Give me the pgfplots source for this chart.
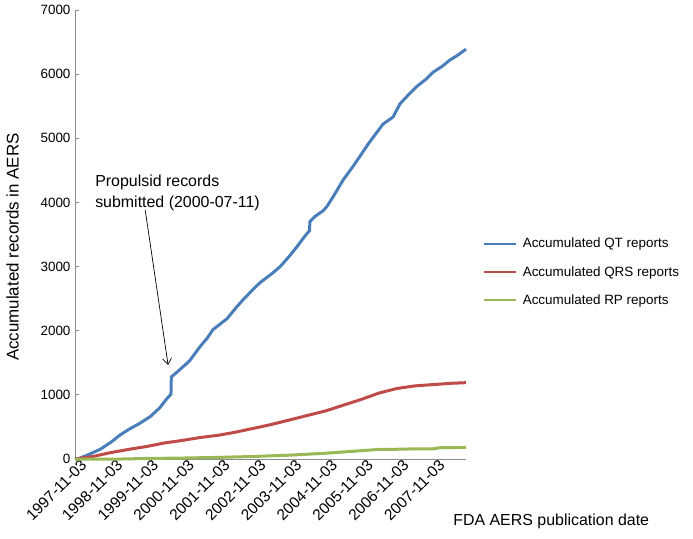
\documentclass[border=0pt]{standalone}
\usepackage{fontspec}
\setmainfont{Liberation Sans}
\usepackage{pgfplots}
\pgfplotsset{compat=1.18}
\usetikzlibrary{arrows.meta}
\definecolor{qtc}{HTML}{4A7EBB}
\definecolor{qrsc}{HTML}{BE4B48}
\definecolor{rpc}{HTML}{98B954}
\definecolor{axc}{HTML}{8C8C8C}
\begin{document}
\begin{tikzpicture}
\begin{axis}[
  at={(0,0)}, anchor=south west,
  scale only axis, width=391bp, height=449bp,
  xmin=0, xmax=10.92, ymin=0, ymax=7000,
  axis x line*=bottom, axis y line*=left,
  axis line style={draw=axc, line width=0.8bp},
  xtick={0,1,...,10},
  xticklabels={1997-11-03,1998-11-03,1999-11-03,2000-11-03,2001-11-03,2002-11-03,2003-11-03,2004-11-03,2005-11-03,2006-11-03,2007-11-03},
  xticklabel style={rotate=45, anchor=north east, font=\fontsize{15.5}{18}\selectfont, inner sep=1bp, xshift=5bp, yshift=-2bp},
  x tick style={draw=none},
  ytick={0,1000,...,7000},
  y tick style={draw=axc, line width=0.8bp},
  tick align=inside, major tick length=4bp,
  yticklabel style={font=\fontsize{13.5}{16}\selectfont, /pgf/number format/1000 sep={}, xshift=-1bp},
  /pgf/number format/assume math mode=true,
  scaled y ticks=false,
  clip=false,
  legend style={at={(rel axis cs:1,0.4165)}, anchor=west, xshift=17bp, draw=none, fill=none,
    font=\fontsize{13.5}{16}\selectfont, row sep=15bp, inner sep=0pt, nodes={inner sep=1bp},
    /tikz/every odd column/.append style={column sep=5bp}},
  legend cell align=left,
  legend image code/.code={\draw[#1, line width=1.6bp] (0bp,0bp) -- (32bp,0bp);},
]
\addplot[qtc, line width=3bp] coordinates {
(0,0) (0.1,5) (0.3,50) (0.5,100) (0.7,150) (1.0,260) (1.26,375) (1.5,460) (1.82,560)
(2.1,660) (2.37,800) (2.55,930) (2.68,1010) (2.69,1280) (2.8,1330) (3.0,1430) (3.2,1530)
(3.49,1750) (3.7,1890) (3.85,2015) (4.0,2080) (4.25,2190) (4.5,2360) (4.69,2480)
(5.0,2660) (5.17,2750) (5.5,2890) (5.73,3000) (6.0,3170) (6.2,3310) (6.4,3460)
(6.55,3560) (6.56,3700) (6.7,3780) (6.93,3870) (7.04,3940) (7.21,4090) (7.5,4360)
(7.75,4550) (7.96,4720) (8.2,4920) (8.44,5100) (8.6,5220) (8.88,5330) (9.08,5540)
(9.3,5670) (9.55,5810) (9.8,5920) (10.0,6030) (10.25,6120) (10.47,6220) (10.7,6300) (10.92,6390)
};
\addlegendentry{Accumulated QT reports}
\addplot[qrsc, line width=3bp] coordinates {
(0,0) (0.5,40) (1,100) (1.5,150) (2,195) (2.5,250) (3,290) (3.5,335) (4,370) (4.5,420)
(5,480) (5.5,540) (6,610) (6.5,680) (7,750) (7.5,840) (8,930) (8.3,990) (8.5,1030)
(9,1100) (9.5,1140) (10,1160) (10.5,1180) (10.92,1190)
};
\addlegendentry{Accumulated QRS reports}
\addplot[rpc, line width=3bp] coordinates {
(0,0) (1.3,0) (2,8) (3,15) (4,25) (5,40) (6,60) (7,90) (8,130) (8.5,150) (9,152)
(9.5,158) (10.05,160) (10.15,175) (10.92,180)
};
\addlegendentry{Accumulated RP reports}
\node[anchor=north west, align=left, font=\fontsize{16}{21}\selectfont, inner sep=0pt]
  at (axis cs:0.56,4435) {Propulsid records\\submitted (2000-07-11)};
\draw[-{Straight Barb[length=6bp,width=9bp]}, line width=0.7bp, black]
  (axis cs:1.96,3885) -- (axis cs:2.6,1466);
\node[anchor=base west, font=\fontsize{16}{19}\selectfont, inner sep=0pt, yshift=-66bp]
  at (rel axis cs:0.967,0) {FDA AERS publication date};
\node[rotate=90, anchor=south, font=\fontsize{17}{19}\selectfont, inner sep=1bp]
  at (rel axis cs:-0.1407,0.472) {Accumulated records in AERS};
\end{axis}
\pgfresetboundingbox
\path[use as bounding box] (-75bp,-80bp) rectangle (618bp,459bp);
\end{tikzpicture}
\end{document}
